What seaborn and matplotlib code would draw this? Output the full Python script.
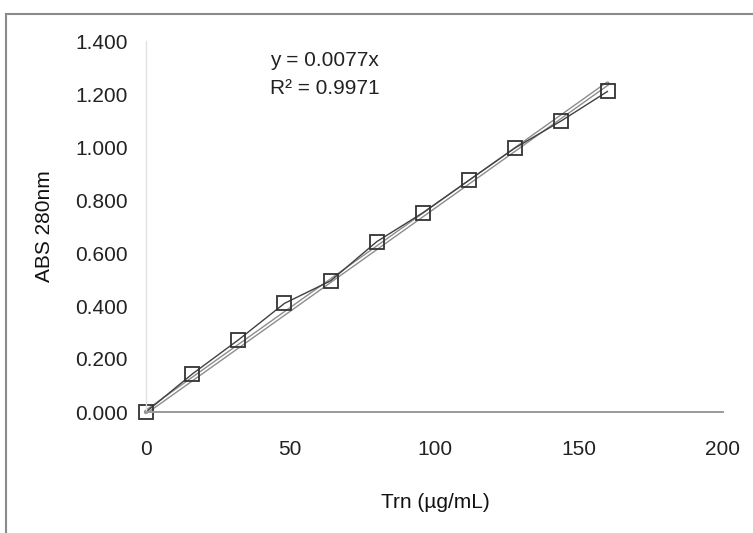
import numpy as np
import pandas as pd
import matplotlib
matplotlib.use("Agg")
import matplotlib.pyplot as plt
import matplotlib.patches as patches
import seaborn as sns

conc = [0, 16, 32, 48, 64, 80, 96, 112, 128, 144, 160]
absorb = [0.000, 0.143, 0.272, 0.410, 0.495, 0.643, 0.752, 0.875, 0.997, 1.099, 1.210]
x_ticks = [0, 50, 100, 150, 200]
y_ticks = [0.0, 0.2, 0.4, 0.6, 0.8, 1.0, 1.2, 1.4]
eq_text = "y = 0.0077x"
r2_text = "R\u00b2 = 0.9971"

sns.set_theme(style="white")
plt.rcParams['font.family'] = ['Liberation Sans', 'DejaVu Sans']

df = pd.DataFrame({"conc": conc, "abs": absorb})

fig = plt.figure(figsize=(7.53, 5.33), dpi=100)
ax = fig.add_axes([146 / 753, 1 - 412 / 533, (723 - 146) / 753, (412 - 41) / 533])

# marco exterior
fig.patches.append(patches.Rectangle((6 / 753, -0.2), 1.3, 1.2 - 14 / 533,
                                     transform=fig.transFigure, fill=False,
                                     edgecolor="#8a8a8a", lw=1.5))

# linea de tendencia por el origen (minimos cuadrados)
x = np.array(conc, dtype=float)
y = np.array(absorb)
pendiente = (x * y).sum() / (x * x).sum()
df_trend = pd.DataFrame({"conc": [0, conc[-1]], "abs": [0, pendiente * conc[-1]]})
sns.lineplot(data=df_trend, x="conc", y="abs", ax=ax, color="#8c8c8c", lw=3.2, clip_on=False)
sns.lineplot(data=df_trend, x="conc", y="abs", ax=ax, color="white", lw=1.2, clip_on=False)

# datos con marcadores cuadrados
sns.lineplot(data=df, x="conc", y="abs", ax=ax, color="#404040", lw=1.0,
             marker="s", markersize=10, markerfacecolor="none",
             markeredgecolor="#333333", markeredgewidth=1.3, clip_on=False)

ax.set_xlim(0, 200)
ax.set_ylim(0, 1.4)
ax.set_xticks(x_ticks)
ax.set_yticks(y_ticks)
ax.set_yticklabels([f"{v:.3f}" for v in y_ticks])
ax.tick_params(axis="x", length=0, pad=20, labelsize=15, labelcolor="#222222")
ax.tick_params(axis="y", length=0, pad=13, labelsize=15, labelcolor="#222222")

for s in ["top", "right"]:
    ax.spines[s].set_visible(False)
ax.spines["bottom"].set_color("#9a9a9a")
ax.spines["bottom"].set_linewidth(1.4)
ax.spines["left"].set_color("#e2e2e2")
ax.spines["left"].set_linewidth(1.0)

ax.set_xlabel("Trn (\u00b5g/mL)", fontsize=15, color="#111111")
ax.set_ylabel("ABS 280nm", fontsize=15, color="#111111")
ax.xaxis.set_label_coords((435 - 146) / (723 - 146), -(502 - 412) / (412 - 41))
ax.yaxis.set_label_coords(-(146 - 45) / (723 - 146), 0.5)
ax.xaxis.label.set_va("center")
ax.yaxis.label.set_va("center")

ax.text(270 / 753, 1 - 60 / 533, eq_text, transform=fig.transFigure,
        fontsize=15, color="#222222", ha="left", va="center")
ax.text(270 / 753, 1 - 88 / 533, r2_text, transform=fig.transFigure,
        fontsize=15, color="#222222", ha="left", va="center")

fig.savefig("out.png", dpi=100, facecolor="white")
